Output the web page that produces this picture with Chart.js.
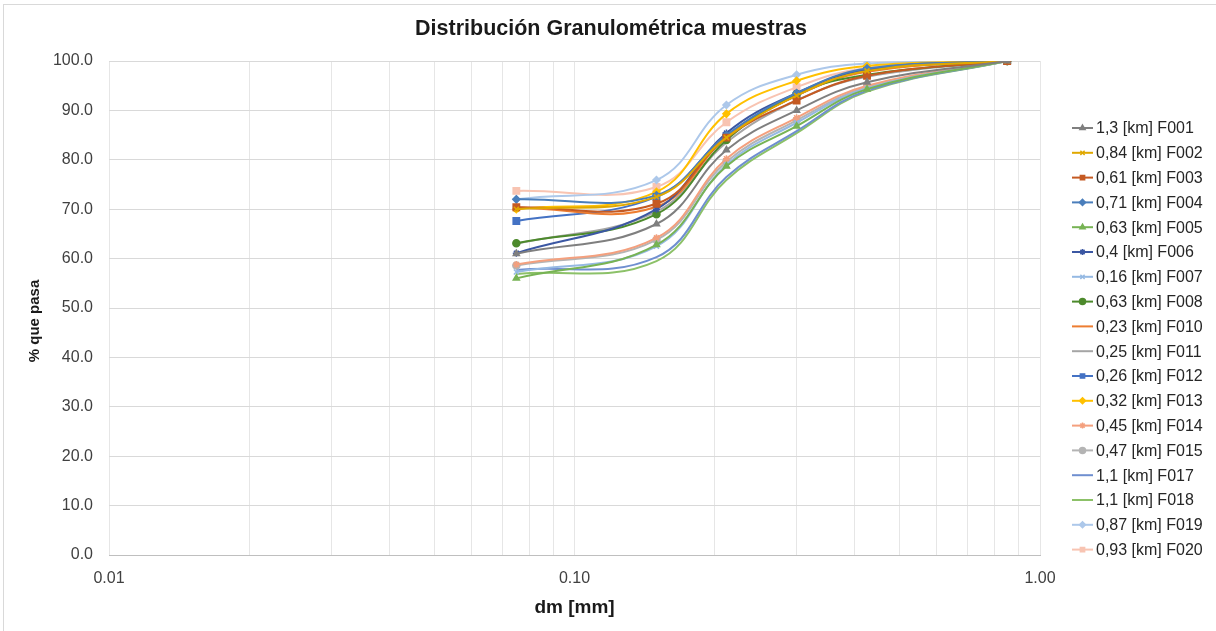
<!DOCTYPE html>
<html>
<head>
<meta charset="utf-8">
<script src="https://cdn.jsdelivr.net/npm/chart.js@4.4.1/dist/chart.umd.min.js"></script>
<style>
  html, body { margin: 0; padding: 0; background: #fff; }
  #wrap { width: 1216px; height: 631px; position: relative; }
</style>
</head>
<body>
<div id="wrap"><canvas id="graph" width="1216" height="631"></canvas></div>
<script>
// ---------- data ----------
var sieves = [0.075, 0.15, 0.212, 0.3, 0.425, 0.85];

var labels = ["1,3 [km] F001", "0,84 [km] F002", "0,61 [km] F003", "0,71 [km] F004", "0,63 [km] F005",
  "0,4 [km] F006", "0,16 [km] F007", "0,63 [km] F008", "0,23 [km] F010", "0,25 [km] F011",
  "0,26 [km] F012", "0,32 [km] F013", "0,45 [km] F014", "0,47 [km] F015", "1,1 [km] F017",
  "1,1 [km] F018", "0,87 [km] F019", "0,93 [km] F020"];

var F001 = [61.0, 67.0, 82.0, 90.0, 95.7, 100];
var F002 = [70.0, 72.5, 84.5, 93.0, 98.0, 100];
var F003 = [70.4, 71.1, 84.5, 92.0, 97.0, 100];
var F004 = [72.0, 72.8, 85.0, 93.5, 98.5, 100];
var F005 = [56.0, 62.8, 78.7, 86.8, 94.3, 100];
var F006 = [61.1, 70.0, 85.4, 93.5, 98.3, 100];
var F007 = [57.3, 62.5, 79.0, 87.5, 94.5, 100];
var F008 = [63.1, 69.0, 84.0, 93.3, 97.2, 100];
var F010 = [70.3, 70.5, 84.5, 93.0, 97.8, 100];
var F011 = [63.0, 69.5, 83.5, 92.0, 96.8, 100];
var F012 = [67.6, 72.5, 84.8, 93.0, 98.0, 100];
var F013 = [70.0, 73.5, 89.3, 96.0, 99.0, 100];
var F014 = [58.8, 64.2, 80.2, 88.5, 95.0, 100];
var F015 = [58.6, 63.8, 79.6, 88.0, 94.7, 100];
var F017 = [57.7, 60.3, 76.5, 85.8, 94.0, 100];
var F018 = [56.9, 59.5, 75.9, 85.4, 93.8, 100];
var F019 = [72.0, 75.9, 91.1, 97.2, 99.5, 100];
var F020 = [73.7, 74.5, 87.6, 94.7, 98.6, 100];

var seriesValues = [F001, F002, F003, F004, F005, F006, F007, F008, F010, F011,
  F012, F013, F014, F015, F017, F018, F019, F020];

var colors = ["#7f7f7f", "#e0a800", "#c55a22", "#4a7ebb", "#77b354", "#3b57a3", "#95b9e3", "#4d8a2c", "#ed7d31",
  "#a5a5a5", "#4472c4", "#ffc000", "#f4a07e", "#b4b4b4", "#6f8fd0", "#8cc168", "#adc8ea", "#f8c4b2"];
var markers = ["triangle", "crossRot", "rect", "rectRot", "triangle", "star", "crossRot", "circle", false,
  false, "rect", "rectRot", "star", "circle", false, false, "rectRot", "rect"];

var yTicks = [0, 10, 20, 30, 40, 50, 60, 70, 80, 90, 100];

// x grid ticks 0.01 .. 1.00 (log decades with minor lines)
var xTicks = [];
for (var e = -2; e <= -1; e++) {
  for (var m = 1; m <= 9; m++) xTicks.push(+(m * Math.pow(10, e)).toFixed(4));
}
xTicks.push(1);

// ---------- datasets ----------
var datasets = [];
for (var i = 0; i < labels.length; i++) {
  var pts = [];
  for (var k = 0; k < sieves.length; k++) pts.push({ x: sieves[k], y: seriesValues[i][k] });
  datasets.push({
    label: labels[i],
    data: pts,
    borderColor: colors[i],
    backgroundColor: colors[i],
    borderWidth: 2,
    tension: 0.4,
    pointStyle: markers[i] || "circle",
    pointRadius: markers[i] ? (markers[i] == "rect" ? 4.5 : 3.5) : 0,
    pointBorderWidth: 1.5,
    pointBorderColor: colors[i],
    pointBackgroundColor: colors[i]
  });
}

// ---------- custom drawing (title, y title, legend, frame) ----------
var extras = {
  id: "extras",
  afterDraw: function (chart) {
    var ctx = chart.ctx;
    ctx.save();
    // outer frame
    ctx.strokeStyle = "#d9d9d9";
    ctx.lineWidth = 1;
    ctx.strokeRect(3.5, 4.5, 1400, 800);
    // title
    ctx.fillStyle = "#1a1a1a";
    ctx.font = "bold 21.5px 'Liberation Sans', Arial, sans-serif";
    ctx.textAlign = "center";
    ctx.textBaseline = "middle";
    ctx.fillText("Distribución Granulométrica muestras", 611, 29);
    // y axis title
    ctx.save();
    ctx.translate(35, 321);
    ctx.rotate(-Math.PI / 2);
    ctx.font = "bold 15px 'Liberation Sans', Arial, sans-serif";
    ctx.fillText("% que pasa", 0, 0);
    ctx.restore();
    // legend
    ctx.textAlign = "left";
    ctx.font = "16px 'Liberation Sans', Arial, sans-serif";
    for (var i = 0; i < chart.data.datasets.length; i++) {
      var ds = chart.data.datasets[i];
      var y = 128 + i * 24.8;
      ctx.strokeStyle = ds.borderColor;
      ctx.lineWidth = 2;
      ctx.beginPath();
      ctx.moveTo(1072, y);
      ctx.lineTo(1093, y);
      ctx.stroke();
      if (ds.pointRadius > 0) {
        ctx.fillStyle = ds.borderColor;
        ctx.strokeStyle = ds.borderColor;
        ctx.lineWidth = 1.5;
        Chart.helpers.drawPoint(ctx, { pointStyle: ds.pointStyle, radius: 3, rotation: 0, borderWidth: 1.5 }, 1082.5, y);
      }
      ctx.fillStyle = "#262626";
      ctx.fillText(ds.label, 1096, y + 1);
    }
    ctx.restore();
  }
};

var ctx = document.getElementById("graph");
var myChart = new Chart(ctx, {
  type: "line",
  data: { datasets: datasets },
  plugins: [extras],
  options: {
    responsive: false,
    animation: false,
    layout: { padding: { top: 61, right: 176, left: 0, bottom: 0 } },
    plugins: {
      legend: { display: false },
      title: { display: false },
      tooltip: { enabled: false }
    },
    scales: {
      x: {
        type: "logarithmic",
        min: 0.01,
        max: 1,
        afterFit: function (s) { s.height = 76; },
        afterBuildTicks: function (s) {
          s.ticks = xTicks.map(function (v) { return { value: v }; });
        },
        ticks: {
          autoSkip: false,
          maxRotation: 0,
          padding: 14,
          color: "#404040",
          font: { family: "'Liberation Sans', Arial, sans-serif", size: 16 },
          callback: function (v) {
            if (v === 0.01 || v === 0.1 || v === 1) return v.toFixed(2);
            return "";
          }
        },
        grid: { color: "#e6e6e6", drawTicks: false },
        border: { color: "#bfbfbf" },
        title: {
          display: true,
          text: "dm [mm]",
          color: "#1a1a1a",
          font: { family: "'Liberation Sans', Arial, sans-serif", size: 19, weight: "bold" },
          padding: { top: 0, bottom: 12 }
        }
      },
      y: {
        min: 0,
        max: 100,
        afterFit: function (s) { s.width = 109; },
        afterBuildTicks: function (s) {
          s.ticks = yTicks.map(function (v) { return { value: v }; });
        },
        ticks: {
          padding: 16,
          color: "#404040",
          font: { family: "'Liberation Sans', Arial, sans-serif", size: 16 },
          callback: function (v) { return Number(v).toFixed(1); }
        },
        grid: { color: "#d9d9d9", drawTicks: false },
        border: { display: false }
      }
    }
  }
});
</script>
</body>
</html>
